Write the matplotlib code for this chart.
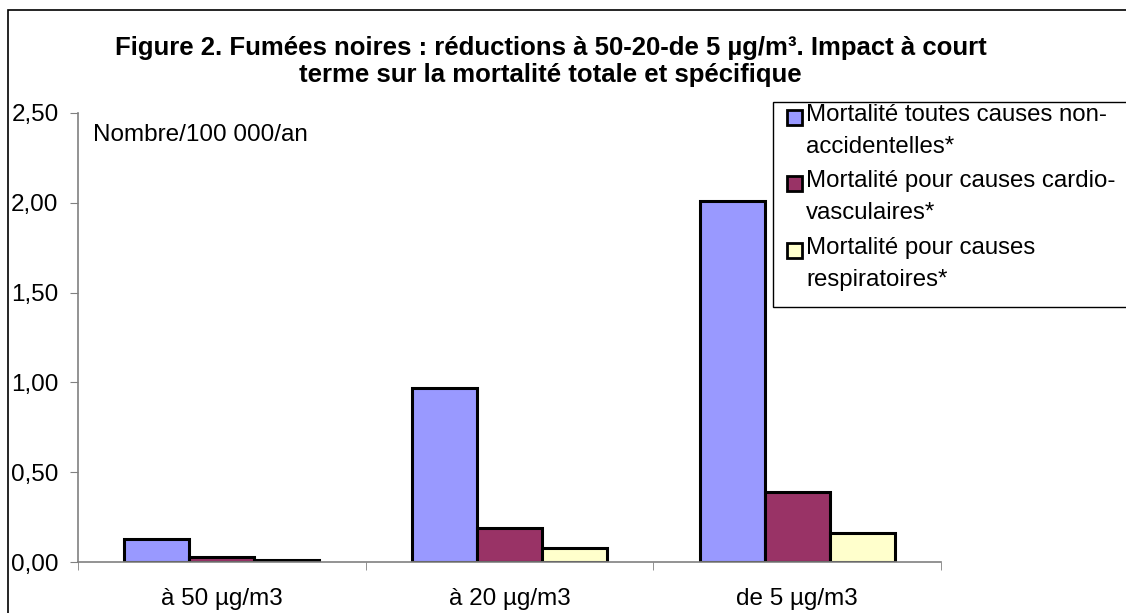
import numpy as np
import matplotlib
matplotlib.use("Agg")
import matplotlib.pyplot as plt
from matplotlib.patches import Rectangle

plt.rcParams['font.family'] = ['Liberation Sans', 'DejaVu Sans']

# données
categories = ["à 50 µg/m3", "à 20 µg/m3", "de 5 µg/m3"]
series_names = ["Mortalité toutes causes non-\naccidentelles*",
                "Mortalité pour causes cardio-\nvasculaires*",
                "Mortalité pour causes\nrespiratoires*"]
toutes_causes = [0.13, 0.97, 2.01]
cardio = [0.03, 0.19, 0.39]
respiratoires = [0.01, 0.08, 0.16]
couleurs = ["#9999FF", "#993366", "#FFFFCC"]
yticks = [0.0, 0.5, 1.0, 1.5, 2.0, 2.5]

W, H = 1126, 613
fig = plt.figure(figsize=(W / 100, H / 100), dpi=100)
ax = fig.add_axes([78 / W, 1 - 562 / H, (941 - 78) / W, (562 - 113) / H])

# cadre de la figure (coupé à droite et en bas)
fig.patches.append(Rectangle((8 / W, -0.05), 1.2, 1 - 10 / H + 0.05,
                             transform=fig.transFigure, fill=False,
                             edgecolor='black', linewidth=1.2))

x = np.arange(len(categories))
w = 0.226
valeurs = [toutes_causes, cardio, respiratoires]
for i, vals in enumerate(valeurs):
    ax.bar(x + (i - 1) * w, vals, w, color=couleurs[i],
           edgecolor='black', linewidth=2.2, label=series_names[i])

ax.set_xlim(-0.5, 2.5)
ax.set_ylim(0, 2.5)
ax.set_yticks(yticks)
ax.set_yticklabels([("%.2f" % v).replace('.', ',') for v in yticks])
ax.set_xticks(x)
ax.set_xticklabels(categories)
ax.set_xticks([-0.5, 0.5, 1.5, 2.5], minor=True)
ax.tick_params(axis='x', which='major', length=0, pad=19, labelsize=17.5)
ax.tick_params(axis='x', which='minor', length=6, direction='out', color='#808080')
ax.tick_params(axis='y', length=6, direction='out', color='#808080', labelsize=17.5, pad=8)

for s in ['top', 'right']:
    ax.spines[s].set_visible(False)
for s in ['left', 'bottom']:
    ax.spines[s].set_color('#808080')
    ax.spines[s].set_linewidth(1.2)

ax.text(0.017, 0.975, "Nombre/100 000/an", transform=ax.transAxes,
        fontsize=17.5, va='top', ha='left')

fig.text(0.489, 1 - 48 / H, "Figure 2. Fumées noires : réductions à 50-20-de 5 µg/m³. Impact à court",
         ha='center', va='center', fontsize=18.5, fontweight='bold')
fig.text(0.489, 1 - 75 / H, "terme sur la mortalité totale et spécifique",
         ha='center', va='center', fontsize=18.5, fontweight='bold')

# légende dessinée à la main (carrés alignés sur la première ligne)
fig.patches.append(Rectangle((773 / W, 1 - 307 / H), 0.5, (307 - 102) / H,
                             transform=fig.transFigure, facecolor='white',
                             edgecolor='black', linewidth=1.0, zorder=5))
lignes_y = [117, 183, 250]
for i, nom in enumerate(series_names):
    y0 = lignes_y[i]
    fig.patches.append(Rectangle((787 / W, 1 - (y0 + 8) / H), 15 / W, 15 / H,
                                 transform=fig.transFigure, facecolor=couleurs[i],
                                 edgecolor='black', linewidth=2.0, zorder=6))
    fig.text(806 / W, 1 - (y0 - 13) / H, nom, fontsize=17.3, va='top', ha='left',
             linespacing=1.6, zorder=7)

fig.savefig("out.png", dpi=100)
